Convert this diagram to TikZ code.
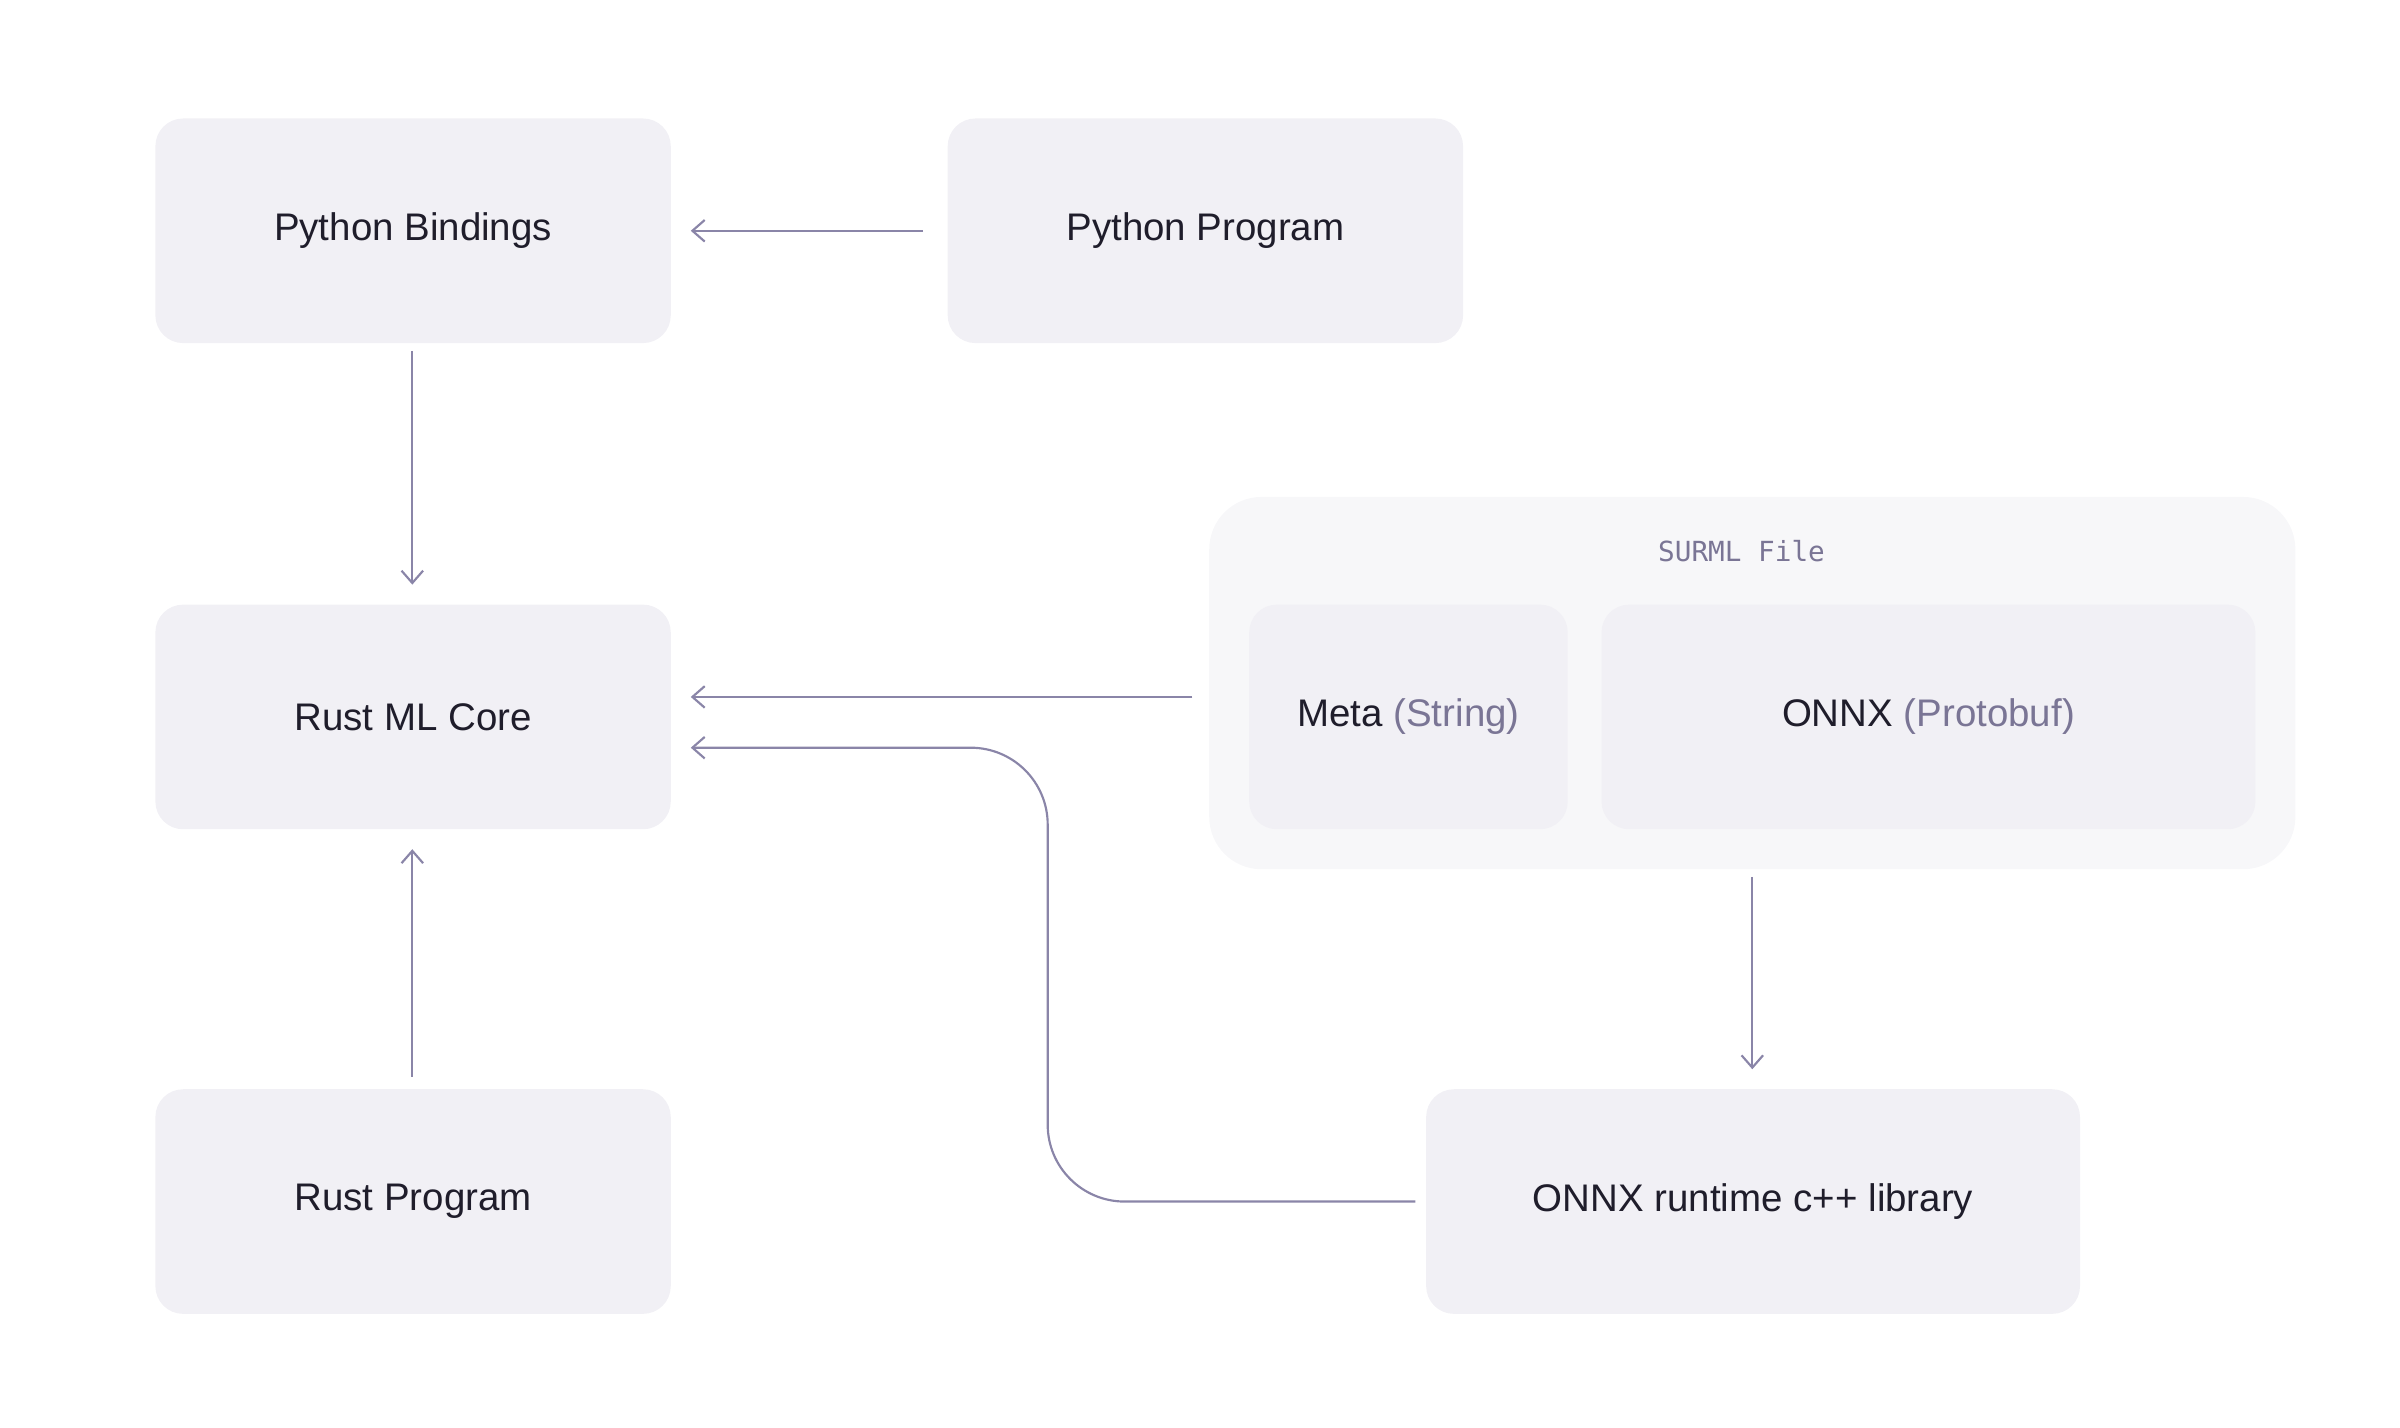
\documentclass[tikz,border=0pt]{standalone}
\usetikzlibrary{arrows.meta}
\usepackage{fontspec}
\setmainfont{Liberation Sans}
\setmonofont{DejaVu Sans Mono}
\definecolor{boxc}{HTML}{F1F0F5}
\definecolor{contc}{HTML}{F7F7F9}
\definecolor{txt}{HTML}{1F1D2B}
\definecolor{sub}{HTML}{7A7595}
\definecolor{arr}{HTML}{8A85A8}
\begin{document}
\begin{tikzpicture}[x=0.5pt,y=-0.5pt,
  box/.style={fill=boxc,rounded corners=9pt,minimum width=167.5pt,minimum height=73pt,text=txt,font=\fontsize{12.5}{14}\selectfont,inner sep=0pt},
  conn/.style={draw=arr,line width=0.7pt,-{Straight Barb[length=4pt,width=7pt]}}]
\useasboundingbox (0,0) rectangle (1560,928);
\node[fill=contc,rounded corners=17pt,minimum width=353pt,minimum height=121pt] (cont) at (1139,444) {};
\node[font=\ttfamily\fontsize{9}{10}\selectfont,text=sub] (lbl) at (1132,358) {SURML File};
\node[box] (pb) at (268.5,150) {Python Bindings};
\node[box] (pp) at (783.5,150) {Python Program};
\node[box] (core) at (268.5,466) {Rust ML Core};
\node[box] (rp) at (268.5,781) {Rust Program};
\node[box,minimum width=103.5pt] (meta) at (915.5,466) {Meta \textcolor{sub}{(String)}};
\node[box,minimum width=212.5pt] (onnx) at (1253.5,466) {ONNX \textcolor{sub}{(Protobuf)}};
\node[box,minimum width=212.5pt] (rt) at (1139.5,781) {ONNX runtime c++ library};
\coordinate (a1) at (600,150); \coordinate (a2) at (449,150);
\draw[conn] (a1) -- (a2);
\coordinate (b1) at (268,228); \coordinate (b2) at (268,380);
\draw[conn] (b1) -- (b2);
\coordinate (c1) at (268,700); \coordinate (c2) at (268,552);
\draw[conn] (c1) -- (c2);
\coordinate (d1) at (775,453); \coordinate (d2) at (449,453);
\draw[conn] (d1) -- (d2);
\coordinate (e1) at (1139,570); \coordinate (e2) at (1139,695);
\draw[conn] (e1) -- (e2);
\coordinate (f1) at (920,781); \coordinate (f2) at (449,486);
\draw[conn,rounded corners=25pt] (f1) -- (681,781) -- (681,486) -- (f2);
\end{tikzpicture}
\end{document}
